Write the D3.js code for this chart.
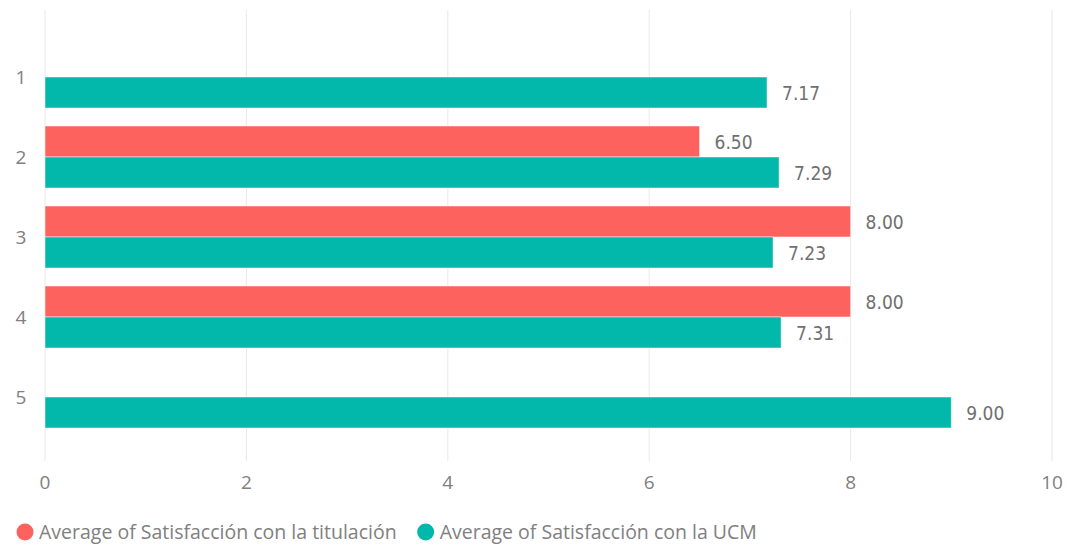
<html>
<meta charset="utf-8">
<script src="https://cdn.jsdelivr.net/npm/d3@7"></script>
<style>
  body { margin: 0; background: white; }
  text { font-family: "Open Sans", "Noto Sans", sans-serif; }
</style>
<body>
<div id="chart"></div>
<script>

var categories = ["1", "2", "3", "4", "5"]
var seriesNames = ["Average of Satisfacción con la titulación", "Average of Satisfacción con la UCM"]
var titulacion = [null, 6.50, 8.00, 8.00, null]
var ucm = [7.17, 7.29, 7.23, 7.31, 9.00]
var xTicks = [0, 2, 4, 6, 8, 10]
var colours = ["#FD625E", "#01B8AA"]

var width = 1068, height = 545

var svg = d3.select("#chart").append("svg")
  .attr("width", width)
  .attr("height", height)

var x = d3.scaleLinear().domain([0, 10]).range([45, 1052])
var y = d3.scaleBand().domain(categories).range([37, 437]).paddingInner(0.225).paddingOuter(0.1125)
var ySub = d3.scaleBand().domain([0, 1]).range([0, y.bandwidth()])

// gridlines
svg.append("g").selectAll("line")
  .data(xTicks)
  .enter().append("line")
  .attr("x1", function(d){ return x(d) })
  .attr("x2", function(d){ return x(d) })
  .attr("y1", 10)
  .attr("y2", 461)
  .attr("stroke", "#e8e8e8")
  .attr("stroke-width", 1)

// x tick labels
svg.append("g").selectAll("text")
  .data(xTicks)
  .enter().append("text")
  .attr("x", function(d){ return x(d) })
  .attr("y", 489)
  .attr("text-anchor", "middle")
  .attr("font-size", 19)
  .attr("fill", "#808080")
  .text(function(d){ return d })

// category labels
svg.append("g").selectAll("text")
  .data(categories)
  .enter().append("text")
  .attr("x", 21)
  .attr("y", function(d){ return y(d) + y.bandwidth() / 2 + 7 })
  .attr("text-anchor", "middle")
  .attr("font-size", 19)
  .attr("fill", "#808080")
  .text(function(d){ return d })

var rows = []
categories.forEach(function(c, i){
  rows.push({cat: c, s: 0, v: titulacion[i]})
  rows.push({cat: c, s: 1, v: ucm[i]})
})
rows = rows.filter(function(d){ return d.v != null })

svg.append("g").selectAll("rect")
  .data(rows)
  .enter().append("rect")
  .attr("x", x(0))
  .attr("y", function(d){ return y(d.cat) + ySub(d.s) })
  .attr("width", function(d){ return x(d.v) - x(0) })
  .attr("height", ySub.bandwidth())
  .attr("fill", function(d){ return colours[d.s] })
  .attr("stroke", "rgba(255,255,255,0.5)")
  .attr("stroke-width", 1)

svg.append("g").selectAll("text")
  .data(rows)
  .enter().append("text")
  .attr("x", function(d){ return x(d.v) + 15 })
  .attr("y", function(d){ return y(d.cat) + ySub(d.s) + ySub.bandwidth() / 2 + 7 })
  .attr("font-size", 19)
  .style("font-family", "'DejaVu Sans', sans-serif")
  .style("font-stretch", "condensed")
  .attr("fill", "#707070")
  .text(function(d){ return d.v.toFixed(2) })

// legend
var legend = svg.append("g")
var lx = 25
seriesNames.forEach(function(name, i){
  legend.append("circle")
    .attr("cx", lx)
    .attr("cy", 532)
    .attr("r", 8.5)
    .attr("fill", colours[i])
  var t = legend.append("text")
    .attr("x", lx + 14)
    .attr("y", 539)
    .attr("font-size", 19.5)
    .attr("fill", "#808080")
    .text(name)
  lx = lx + 14 + t.node().getComputedTextLength() + 29
})

</script>
</body>
</html>
